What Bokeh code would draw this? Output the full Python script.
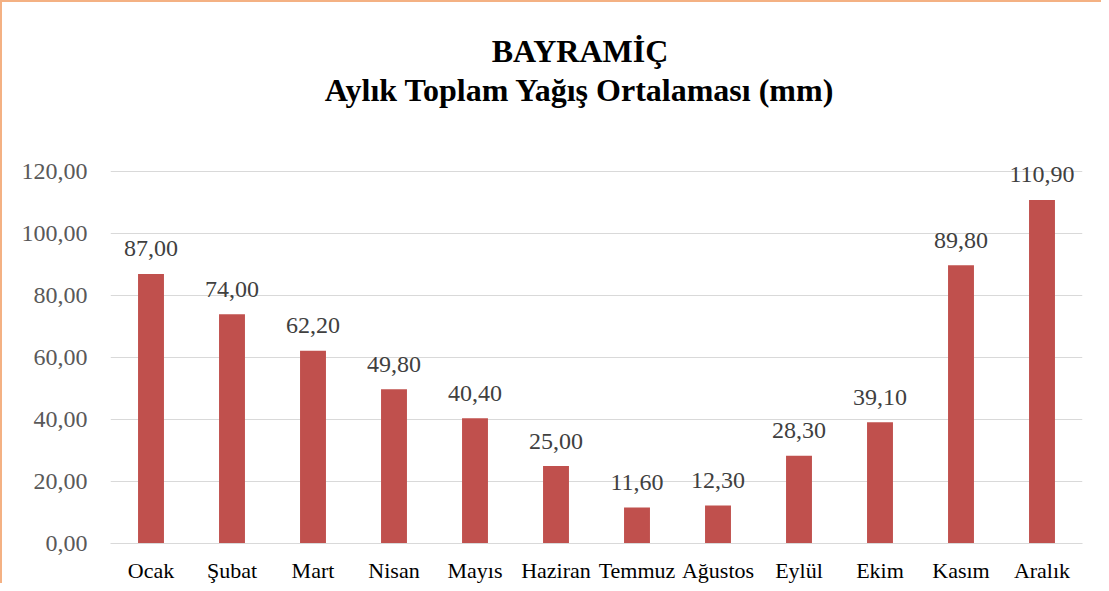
from bokeh.plotting import figure
from bokeh.models import ColumnDataSource, Range1d, FactorRange, Label
from bokeh.core.properties import value
from bokeh.embed import file_html
from bokeh.resources import INLINE

months = ["Ocak", "Şubat", "Mart", "Nisan", "Mayıs", "Haziran", "Temmuz",
          "Ağustos", "Eylül", "Ekim", "Kasım", "Aralık"]
rain = [87.0, 74.0, 62.2, 49.8, 40.4, 25.0, 11.6, 12.3, 28.3, 39.1, 89.8, 110.9]
y_ticks = [0, 20, 40, 60, 80, 100, 120]
title_1 = "BAYRAMİÇ"
title_2 = "Aylık Toplam Yağış Ortalaması (mm)"

labels = [f"{v:.2f}".replace(".", ",") for v in rain]
src = ColumnDataSource(dict(month=months, rain=rain, label=labels))

FONT = "Liberation Serif"

# y range extends above 120 to leave room for the title inside the frame
p = figure(x_range=FactorRange(*months, range_padding=0), y_range=Range1d(0, 171.38),
           width=1101, height=583, output_backend="svg", toolbar_location=None,
           min_border_left=108, min_border_right=21, min_border_top=10,
           min_border_bottom=36)
p.styles = {"border-top": "2px solid #F4B183", "border-left": "2px solid #F4B183"}
p.outline_line_color = None
p.background_fill_color = "white"
p.border_fill_color = "white"

p.vbar(x="month", top="rain", width=0.32, source=src, fill_color="#C0504D",
       line_color=None)

p.text(x="month", y="rain", text="label", source=src, text_align="center",
       text_baseline="middle", y_offset=-25, text_font=value(FONT),
       text_font_size="24px", text_color="#404040")

p.xgrid.grid_line_color = None
p.ygrid.grid_line_color = "#D9D9D9"
p.ygrid.grid_line_width = 1.2
p.ygrid.ticker = y_ticks

p.yaxis.ticker = y_ticks
p.yaxis.major_label_overrides = {t: f"{t:.2f}".replace(".", ",") for t in y_ticks}
p.yaxis.axis_line_color = None
p.yaxis.major_tick_line_color = None
p.yaxis.minor_tick_line_color = None
p.yaxis.major_label_standoff = 17
p.yaxis.major_label_text_font = FONT
p.yaxis.major_label_text_font_size = "24px"
p.yaxis.major_label_text_color = "#595959"

p.xaxis.axis_line_color = "#D9D9D9"
p.xaxis.axis_line_width = 1.2
p.xaxis.major_tick_line_color = None
p.xaxis.minor_tick_line_color = None
p.xaxis.major_label_standoff = 8
p.xaxis.major_label_text_font = FONT
p.xaxis.major_label_text_font_size = "22px"
p.xaxis.major_label_text_color = "black"

for txt, yv in [(title_1, 159.1), (title_2, 146.3)]:
    p.add_layout(Label(x=5.796, y=yv, text=txt, text_align="center",
                       text_baseline="middle", text_font=FONT,
                       text_font_size="32px", text_font_style="bold",
                       text_color="black"))

open("out.html", "w").write(file_html(p, INLINE))
